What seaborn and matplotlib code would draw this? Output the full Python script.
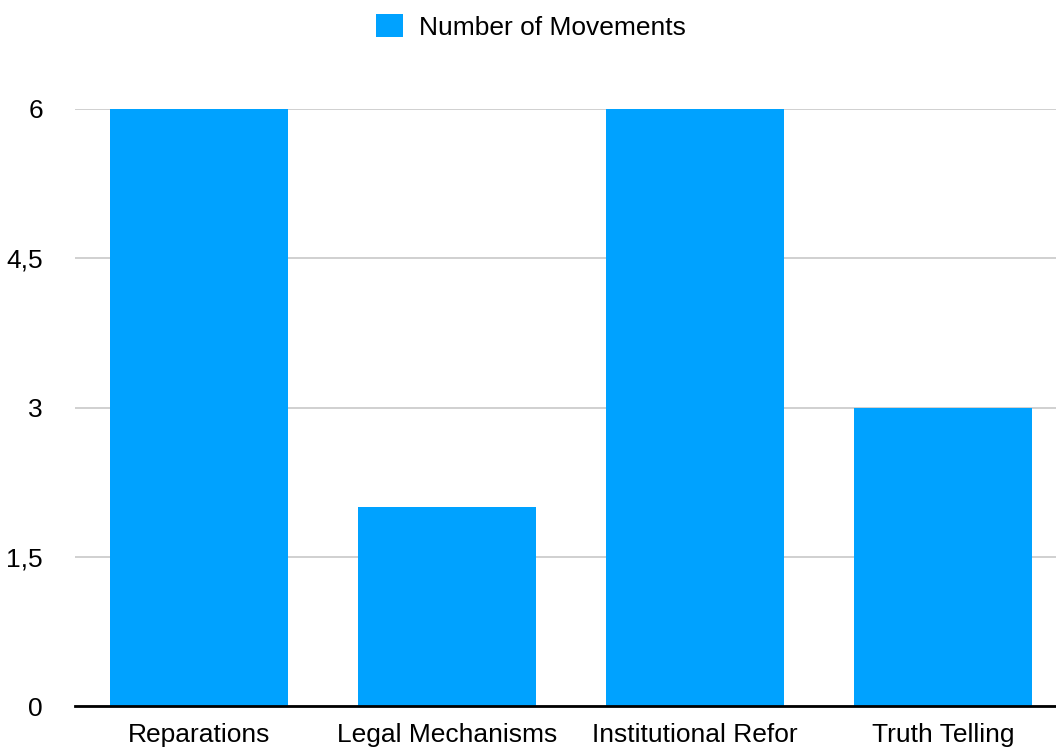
import matplotlib
matplotlib.use("Agg")
import matplotlib.pyplot as plt
import seaborn as sns
import pandas as pd
from matplotlib.ticker import FixedLocator, FixedFormatter
from matplotlib.patches import Patch

categories = ["Reparations", "Legal Mechanisms", "Institutional Refor", "Truth Telling"]
values = [6, 2, 6, 3]
series_name = "Number of Movements"
yticks = [0, 1.5, 3, 4.5, 6]
ytick_labels = ["0", "1,5", "3", "4,5", "6"]

df = pd.DataFrame({"category": categories, "value": values, "series": series_name})

sns.set_theme(style="white")
plt.rcParams['font.family'] = ['Liberation Sans', 'DejaVu Sans']

fig = plt.figure(figsize=(10.56, 7.47), dpi=100)
ax = fig.add_axes([75/1056, 41/747, 992/1056, 597/747])

color = "#00A2FF"
sns.barplot(data=df, x="category", y="value", hue="series", palette=[color],
            width=0.72, ax=ax, saturation=1, legend=False, linewidth=0, edgecolor="none")

ax.set_ylim(0, 6)
ax.set_xlim(-0.5, 3.5)
ax.yaxis.set_major_locator(FixedLocator(yticks))
ax.yaxis.set_major_formatter(FixedFormatter(ytick_labels))
ax.grid(axis="y", color="#c8c8c8", linewidth=1.2)
ax.set_axisbelow(True)
for s in ["top", "right", "left"]:
    ax.spines[s].set_visible(False)
ax.spines["bottom"].set_color("black")
ax.spines["bottom"].set_linewidth(2)
ax.spines["bottom"].set_zorder(5)
ax.set_xlabel("")
ax.set_ylabel("")
ax.tick_params(axis="y", length=0, labelsize=19, pad=23, labelcolor="black")
ax.tick_params(axis="x", length=0, labelsize=19, pad=12, labelcolor="black")

fig.legend(handles=[Patch(facecolor=color, edgecolor="none", label=series_name)],
           loc="center", bbox_to_anchor=(531/1056, 1 - 27/747), frameon=False,
           fontsize=19, handlelength=1.02, handleheight=0.95, handletextpad=0.64,
           labelcolor="black")

fig.savefig("out.png", dpi=100, facecolor="white")
